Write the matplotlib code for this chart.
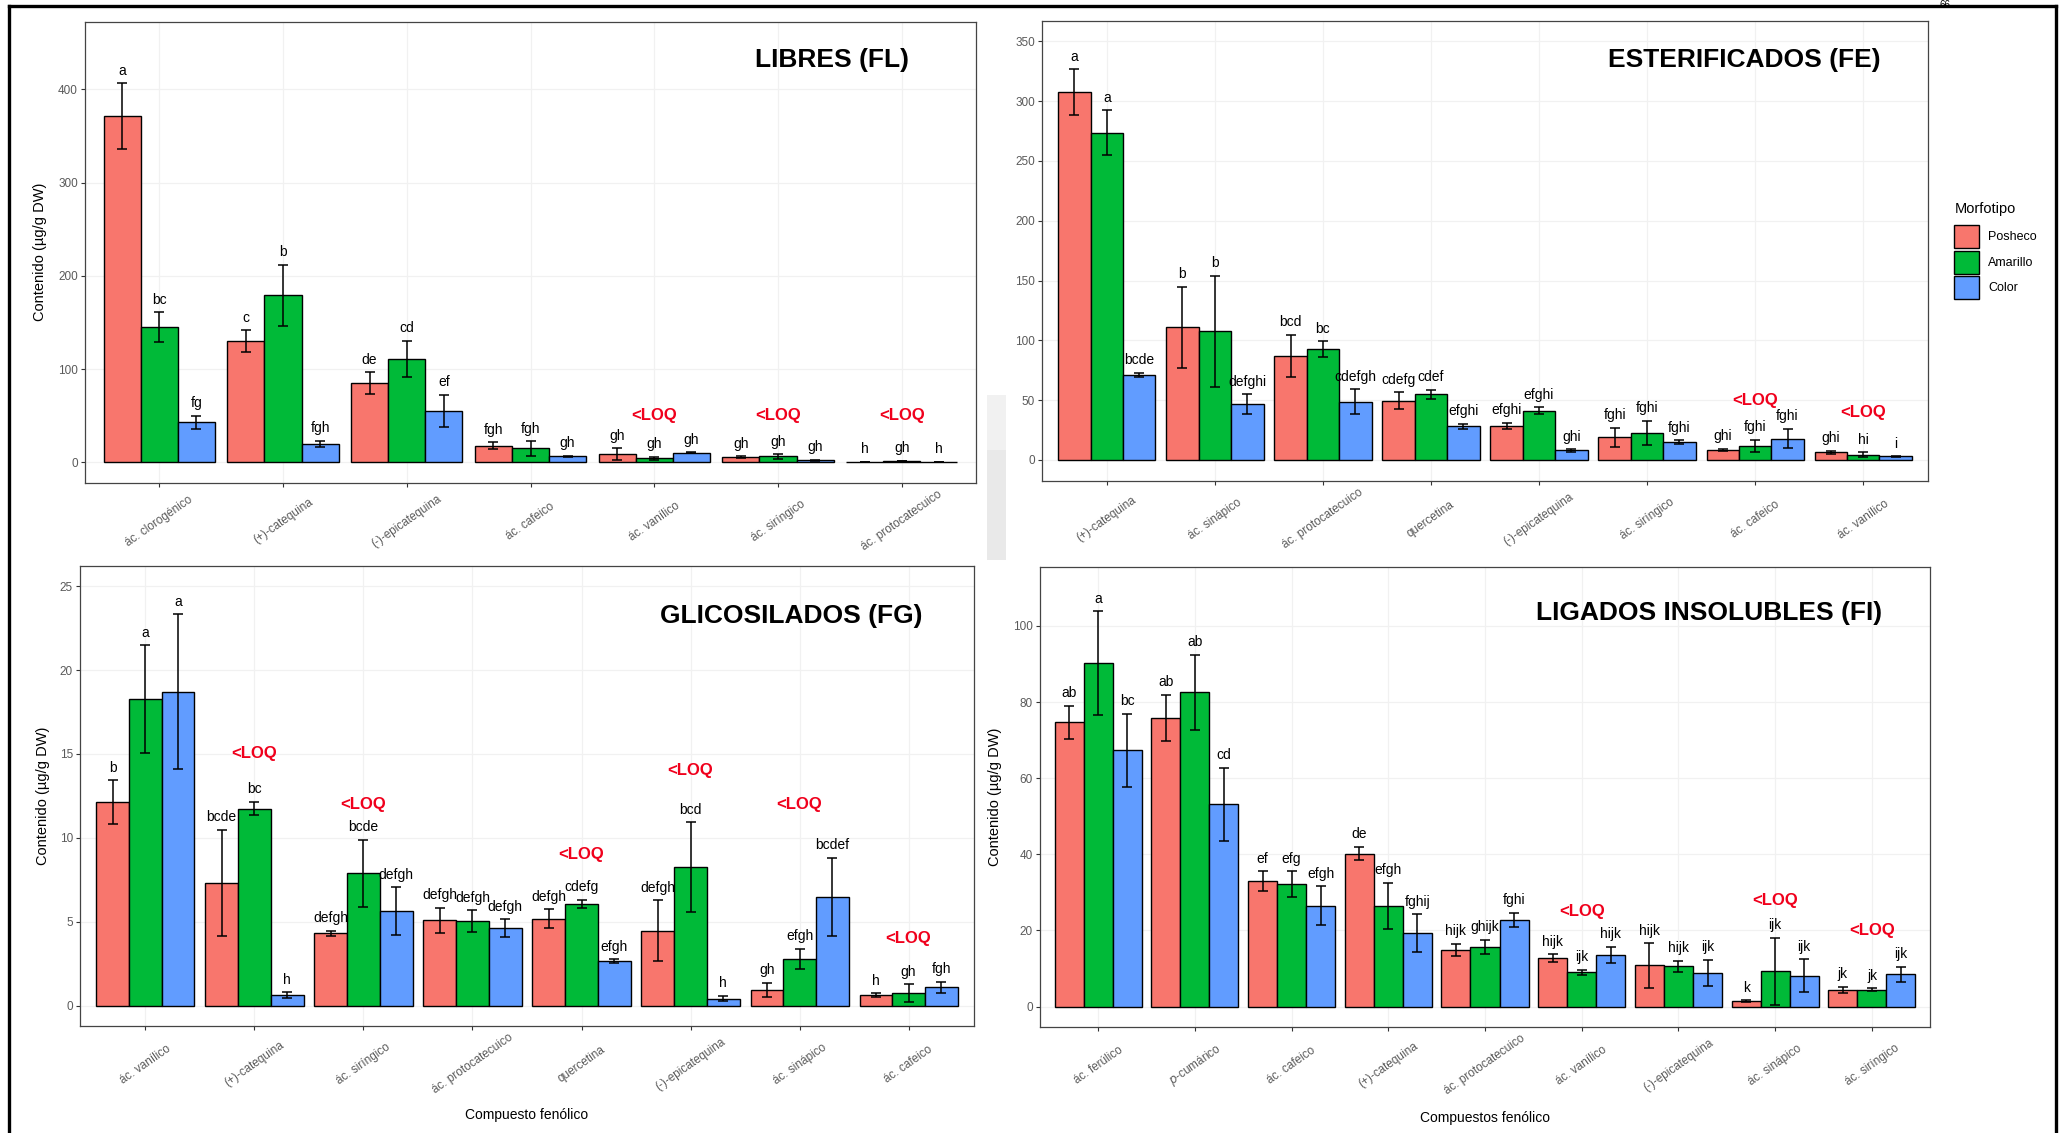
import numpy as np
import matplotlib
matplotlib.use('Agg')
import matplotlib.pyplot as plt
from matplotlib.patches import Rectangle

plt.rcParams['font.family'] = ['Liberation Sans', 'DejaVu Sans']

W, H = 2062, 1133

morfotipos = ['Posheco', 'Amarillo', 'Color']
colores = ['#F8766D', '#00BA38', '#619CFF']

# fenoles libres
fl_cats = ['ác. clorogénico', '(+)-catequina', '(-)-epicatequina', 'ác. cafeico',
           'ác. vanílico', 'ác. siríngico', 'ác. protocatecuico']
fl_mean = [[371, 130, 85, 18, 9, 5.7, 0.8],
           [145, 179, 111, 15, 4.6, 6.5, 1.5],
           [43, 20, 55, 6.5, 10.3, 2.3, 0.8]]
fl_se = [[35.5, 11.5, 11.5, 3.5, 6, 0.8, 0.2],
         [16, 33, 19.5, 8, 1.5, 2.3, 0.3],
         [6.8, 3.5, 17.5, 0.8, 0.6, 0.5, 0.2]]
fl_letras = [['a', 'c', 'de', 'fgh', 'gh', 'gh', 'h'],
             ['bc', 'b', 'cd', 'fgh', 'gh', 'gh', 'gh'],
             ['fg', 'fgh', 'ef', 'gh', 'gh', 'gh', 'h']]
fl_loq = {5: 50, 6: 50, 7: 50}

# fenoles esterificados
fe_cats = ['(+)-catequina', 'ác. sinápico', 'ác. protocatecuico', 'quercetina',
           '(-)-epicatequina', 'ác. siríngico', 'ác. cafeico', 'ác. vanílico']
fe_mean = [[307.7, 111, 86.8, 49.5, 28.3, 18.8, 8.3, 6.3],
           [273.7, 107.6, 92.7, 54.9, 41.1, 22.4, 11.9, 4.2],
           [71.3, 46.5, 48.6, 28.3, 8, 14.9, 17.9, 3]]
fe_se = [[19, 34, 17.7, 7.2, 2.7, 8.3, 1.2, 1.4],
         [18.5, 46.3, 6.5, 3.7, 3, 10.3, 5, 2.1],
         [1.6, 8.3, 10.5, 2.1, 1, 1.5, 8.1, 0.3]]
fe_letras = [['a', 'b', 'bcd', 'cdefg', 'efghi', 'fghi', 'ghi', 'ghi'],
             ['a', 'b', 'bc', 'cdef', 'efghi', 'fghi', 'fghi', 'hi'],
             ['bcde', 'defghi', 'cdefgh', 'efghi', 'ghi', 'fghi', 'fghi', 'i']]
fe_loq = {7: 50, 8: 40}

# fenoles glicosilados
fg_cats = ['ác. vanílico', '(+)-catequina', 'ác. siríngico', 'ác. protocatecuico',
           'quercetina', '(-)-epicatequina', 'ác. sinápico', 'ác. cafeico']
fg_mean = [[12.14, 7.31, 4.31, 5.08, 5.17, 4.45, 0.93, 0.61],
           [18.26, 11.74, 7.88, 5.03, 6.07, 8.24, 2.78, 0.74],
           [18.71, 0.61, 5.64, 4.6, 2.64, 0.41, 6.48, 1.08]]
fg_se = [[1.29, 3.16, 0.16, 0.75, 0.57, 1.82, 0.44, 0.11],
         [3.22, 0.4, 2.01, 0.66, 0.23, 2.69, 0.59, 0.53],
         [4.6, 0.17, 1.42, 0.53, 0.12, 0.16, 2.32, 0.33]]
fg_letras = [['b', 'bcde', 'defgh', 'defgh', 'defgh', 'defgh', 'gh', 'h'],
             ['a', 'bc', 'bcde', 'defgh', 'cdefg', 'bcd', 'efgh', 'gh'],
             ['a', 'h', 'defgh', 'defgh', 'efgh', 'h', 'bcdef', 'fgh']]
fg_loq = {2: 15, 3: 12, 5: 9, 6: 14, 7: 12, 8: 4}

# fenoles ligados insolubles
fi_cats = ['ác. ferúlico', '$\\mathit{p}$-cumárico', 'ác. cafeico', '(+)-catequina',
           'ác. protocatecuico', 'ác. vanílico', '(-)-epicatequina', 'ác. sinápico',
           'ác. siríngico']
fi_mean = [[74.7, 75.9, 32.9, 40.2, 14.9, 12.7, 10.8, 1.4, 4.4],
           [90.2, 82.6, 32.2, 26.5, 15.7, 9.0, 10.6, 9.3, 4.4],
           [67.3, 53.1, 26.5, 19.3, 22.8, 13.6, 8.8, 8.1, 8.5]]
fi_se = [[4.3, 6.0, 2.6, 1.8, 1.6, 1.0, 5.8, 0.25, 0.8],
         [13.7, 9.8, 3.4, 6.1, 1.9, 0.7, 1.4, 8.8, 0.4],
         [9.7, 9.6, 5.1, 5.0, 1.8, 2.1, 3.5, 4.3, 2.0]]
fi_letras = [['ab', 'ab', 'ef', 'de', 'hijk', 'hijk', 'hijk', 'k', 'jk'],
             ['a', 'ab', 'efg', 'efgh', 'ghijk', 'ijk', 'hijk', 'ijk', 'jk'],
             ['bc', 'cd', 'efgh', 'fghij', 'fghi', 'hijk', 'ijk', 'ijk', 'ijk']]
fi_loq = {6: 25, 8: 28, 9: 20}


def px_axes(fig, x0, y0, x1, y1):
    return fig.add_axes([x0 / W, 1 - y1 / H, (x1 - x0) / W, (y1 - y0) / H])


def panel(ax, cats, mean, se, letras, loq, titulo, tpos, ylim, yticks):
    x = np.arange(1, len(cats) + 1)
    ancho = 0.3
    for i in range(3):
        xi = x + (i - 1) * ancho
        m = np.array(mean[i])
        e = np.array(se[i])
        ax.bar(xi, m, width=ancho, color=colores[i], edgecolor='black',
               linewidth=1.0, zorder=2)
        ax.errorbar(xi, m, yerr=e, fmt='none', ecolor='black', elinewidth=1.1,
                    capsize=3.3, capthick=1.1, zorder=3)
        for xx, yy, lt in zip(xi, m + e, letras[i]):
            ax.annotate(lt, (xx, yy), xytext=(0, 9), textcoords='offset points',
                        ha='center', va='center', fontsize=10, color='black')
    for k, yv in loq.items():
        ax.text(k, yv, '<LOQ', ha='center', va='center', fontsize=12,
                fontweight='bold', color='#f0001c')
    ax.text(tpos[0], tpos[1], titulo, transform=ax.transAxes, ha='right',
            va='center', fontsize=19, fontweight='bold')

    ax.set_xlim(0.4, len(cats) + 0.6)
    ax.set_ylim(*ylim)
    ax.set_yticks(yticks)
    ax.set_xticks(x)
    ax.set_xticklabels(cats)
    for lab in ax.get_xticklabels():
        lab.set_rotation(35)
        lab.set_ha('center')
        lab.set_va('center')
        lab.set_rotation_mode('anchor')
    ax.tick_params(axis='x', length=3, pad=24.5, labelsize=8.5,
                   color='#333333', labelcolor='#5a5a5a')
    ax.tick_params(axis='y', length=3, pad=2, labelsize=8.5,
                   color='#333333', labelcolor='#5a5a5a')
    ax.grid(True, color='#f1f1f1', linewidth=0.9, zorder=0)
    ax.set_axisbelow(True)
    for s in ax.spines.values():
        s.set_color('#444444')
        s.set_linewidth(0.9)


fig = plt.figure(figsize=(W / 100, H / 100), dpi=100)
fig.patch.set_facecolor('white')

# capa de fondo: marco, marca de agua, leyenda y textos sueltos
bg = fig.add_axes([0, 0, 1, 1], zorder=-1)
bg.set_xlim(0, W)
bg.set_ylim(H, 0)
bg.axis('off')
bg.add_patch(Rectangle((987, 395), 19, 55, color='#f1f1f1', lw=0))
bg.add_patch(Rectangle((987, 450), 19, 110, color='#e9e9e9', lw=0))
bg.plot([9, 2056], [6, 6], color='black', lw=2.4, solid_capstyle='projecting')
bg.plot([9, 9], [6, H], color='black', lw=2.4)
bg.plot([2056, 2056], [6, H], color='black', lw=2.4)
# número de página
bg.text(1945, 0.5, '66', ha='center', va='top', fontsize=7, color='black')

ax_fl = px_axes(fig, 85, 22, 976, 483)
ax_fe = px_axes(fig, 1042, 21, 1928, 481)
ax_fg = px_axes(fig, 80, 566, 974, 1026)
ax_fi = px_axes(fig, 1040, 567, 1930, 1027)

panel(ax_fl, fl_cats, fl_mean, fl_se, fl_letras, fl_loq, 'LIBRES (FL)',
      (0.925, 0.918), (-22, 472), [0, 100, 200, 300, 400])
panel(ax_fe, fe_cats, fe_mean, fe_se, fe_letras, fe_loq, 'ESTERIFICADOS (FE)',
      (0.947, 0.915), (-17.6, 367), [0, 50, 100, 150, 200, 250, 300, 350])
panel(ax_fg, fg_cats, fg_mean, fg_se, fg_letras, fg_loq, 'GLICOSILADOS (FG)',
      (0.942, 0.891), (-1.22, 26.2), [0, 5, 10, 15, 20, 25])
panel(ax_fi, fi_cats, fi_mean, fi_se, fi_letras, fi_loq, 'LIGADOS INSOLUBLES (FI)',
      (0.946, 0.90), (-5.36, 115.5), [0, 20, 40, 60, 80, 100])

# etiquetas de ejes
for (xp, yp) in [(40, 252), (43, 796), (995, 797)]:
    bg.text(xp, yp, 'Contenido (µg/g DW)', rotation=90, ha='center',
            va='center', fontsize=10.5, color='black')
bg.text(527, 1115, 'Compuesto fenólico', ha='center', va='center', fontsize=10)
bg.text(1485, 1118, 'Compuestos fenólico', ha='center', va='center', fontsize=10)

# leyenda
bg.text(1955, 209, 'Morfotipo', ha='left', va='center', fontsize=10.5)
for i, (nom, col) in enumerate(zip(morfotipos, colores)):
    y0 = 225 + i * 25.5
    bg.add_patch(Rectangle((1954, y0), 25, 23, facecolor=col,
                           edgecolor='black', lw=1.0))
    bg.text(1988, y0 + 12, nom, ha='left', va='center', fontsize=9)

fig.savefig('out.png', dpi=100)
